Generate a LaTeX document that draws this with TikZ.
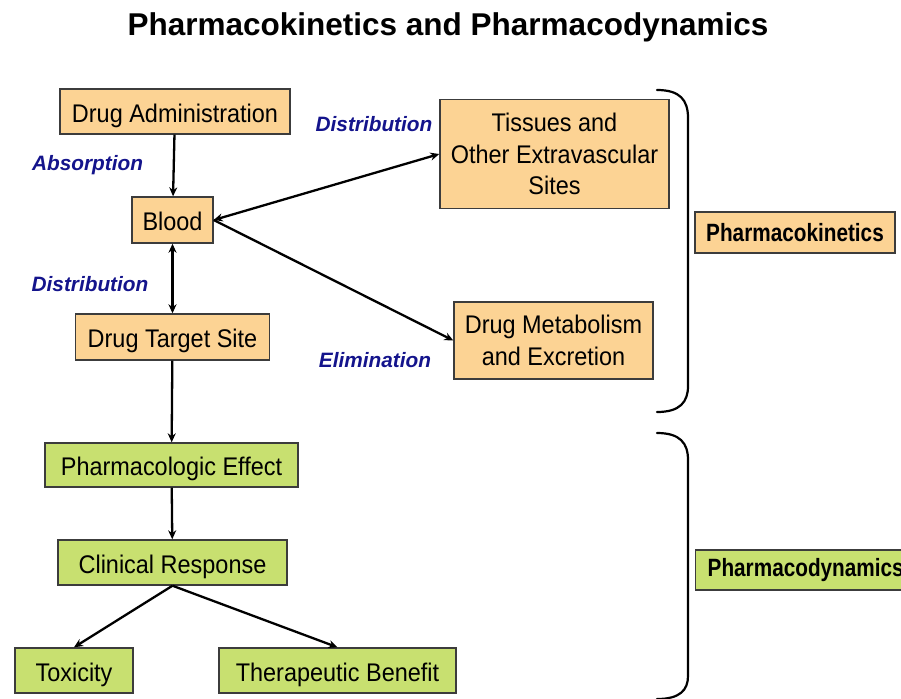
\documentclass[tikz,border=0pt]{standalone}
\usepackage{fontspec}
\setmainfont{Liberation Sans}
\newfontfamily\boxfont{Liberation Sans}[FakeStretch=0.92]
\newfontfamily\sidefont{Liberation Sans}[FakeStretch=0.83]
\usetikzlibrary{arrows.meta}
\definecolor{pkfill}{HTML}{FCD394}
\definecolor{pdfill}{HTML}{C8E070}
\definecolor{boxline}{HTML}{3C3C3C}
\definecolor{navy}{HTML}{14148C}
\begin{document}
\begin{tikzpicture}[x=1pt,y=-1pt,
  box/.style={draw=boxline, line width=1.4pt, inner sep=0pt, align=center,
    font=\boxfont\fontsize{25.5}{31.5}\selectfont},
  oneline/.style={text height=21pt, text depth=0pt},
  pkbox/.style={box, fill=pkfill},
  pdbox/.style={box, fill=pdfill},
  sidebox/.style={draw=boxline, line width=1.4pt, inner sep=0pt,
    font=\sidefont\fontsize{25}{28}\selectfont\bfseries},
  lbl/.style={text=navy, font=\fontsize{20.8}{24}\selectfont\bfseries\itshape},
  arr/.style={line width=2.3pt, -{Stealth[length=9pt,width=8pt]}},
  darr/.style={line width=2.3pt, {Stealth[length=9pt,width=8pt]}-{Stealth[length=9pt,width=8pt]}},
  brace/.style={line width=2.2pt, line cap=round}
]
\useasboundingbox (0,0) rectangle (901,698);

\node[font=\fontsize{31.5}{36}\selectfont\bfseries] (title) at (448,27) {Pharmacokinetics and Pharmacodynamics};

% Pharmacokinetic boxes
\node[pkbox, oneline, minimum width=230pt, minimum height=45pt] (adm) at (175,111.5) {Drug Administration};
\node[pkbox, oneline, minimum width=81pt, minimum height=46pt] (blood) at (172.5,220) {Blood};
\node[pkbox, oneline, minimum width=194pt, minimum height=46pt] (target) at (172.5,337) {Drug Target Site};
\node[pkbox, minimum width=229pt, minimum height=109pt] (tis) at (554.5,154) {Tissues and\\Other Extravascular\\Sites};
\node[pkbox, minimum width=199pt, minimum height=77pt] (met) at (553.5,340.5) {Drug Metabolism\\and Excretion};

% Pharmacodynamic boxes
\node[pdbox, oneline, minimum width=253pt, minimum height=44pt] (pe) at (171.5,465) {Pharmacologic Effect};
\node[pdbox, oneline, minimum width=229pt, minimum height=45pt] (cr) at (172.5,562.5) {Clinical Response};
\node[pdbox, oneline, minimum width=118pt, minimum height=45pt] (tox) at (74,670.5) {Toxicity};
\node[pdbox, oneline, minimum width=237pt, minimum height=45pt] (ther) at (337.5,670.5) {Therapeutic Benefit};

% Side labels
\node[sidebox, fill=pkfill, minimum width=200pt, minimum height=41pt] (pk) at (795,232.5) {Pharmacokinetics};
\node[sidebox, fill=pdfill, minimum width=212pt, minimum height=40pt, anchor=west] (pd) at (695,570) {\hspace*{8pt}Pharmacodynamics\hfill};

% Connector labels
\node[lbl] (l1) at (374,124) {Distribution};
\node[lbl] (l2) at (87.5,165) {Absorption};
\node[lbl] (l3) at (90,284) {Distribution};
\node[lbl] (l4) at (375,360) {Elimination};

% Connectors
\draw[arr] (adm) -- (blood);
\draw[darr] (blood) -- (target);
\draw[darr] (blood.east) -- (tis.west);
\draw[arr] (blood.east) -- (met.west);
\draw[arr] (target) -- (pe);
\draw[arr] (pe) -- (cr);
\draw[arr] (cr.south) -- (tox.north);
\draw[arr] (cr.south) -- (ther.north);

% Braces
\coordinate (b1a) at (657,90);
\coordinate (b1b) at (688,118);
\coordinate (b1c) at (688,386);
\coordinate (b1d) at (657,412);
\draw[brace] (b1a) .. controls (680,90) and (688,100) .. (b1b) -- (b1c) .. controls (688,402) and (680,412) .. (b1d);
\coordinate (b2a) at (657,433);
\coordinate (b2b) at (688,460);
\coordinate (b2c) at (688,676);
\coordinate (b2d) at (657,699);
\draw[brace] (b2a) .. controls (680,433) and (688,443) .. (b2b) -- (b2c) .. controls (688,690) and (680,699) .. (b2d);
\end{tikzpicture}
\end{document}
